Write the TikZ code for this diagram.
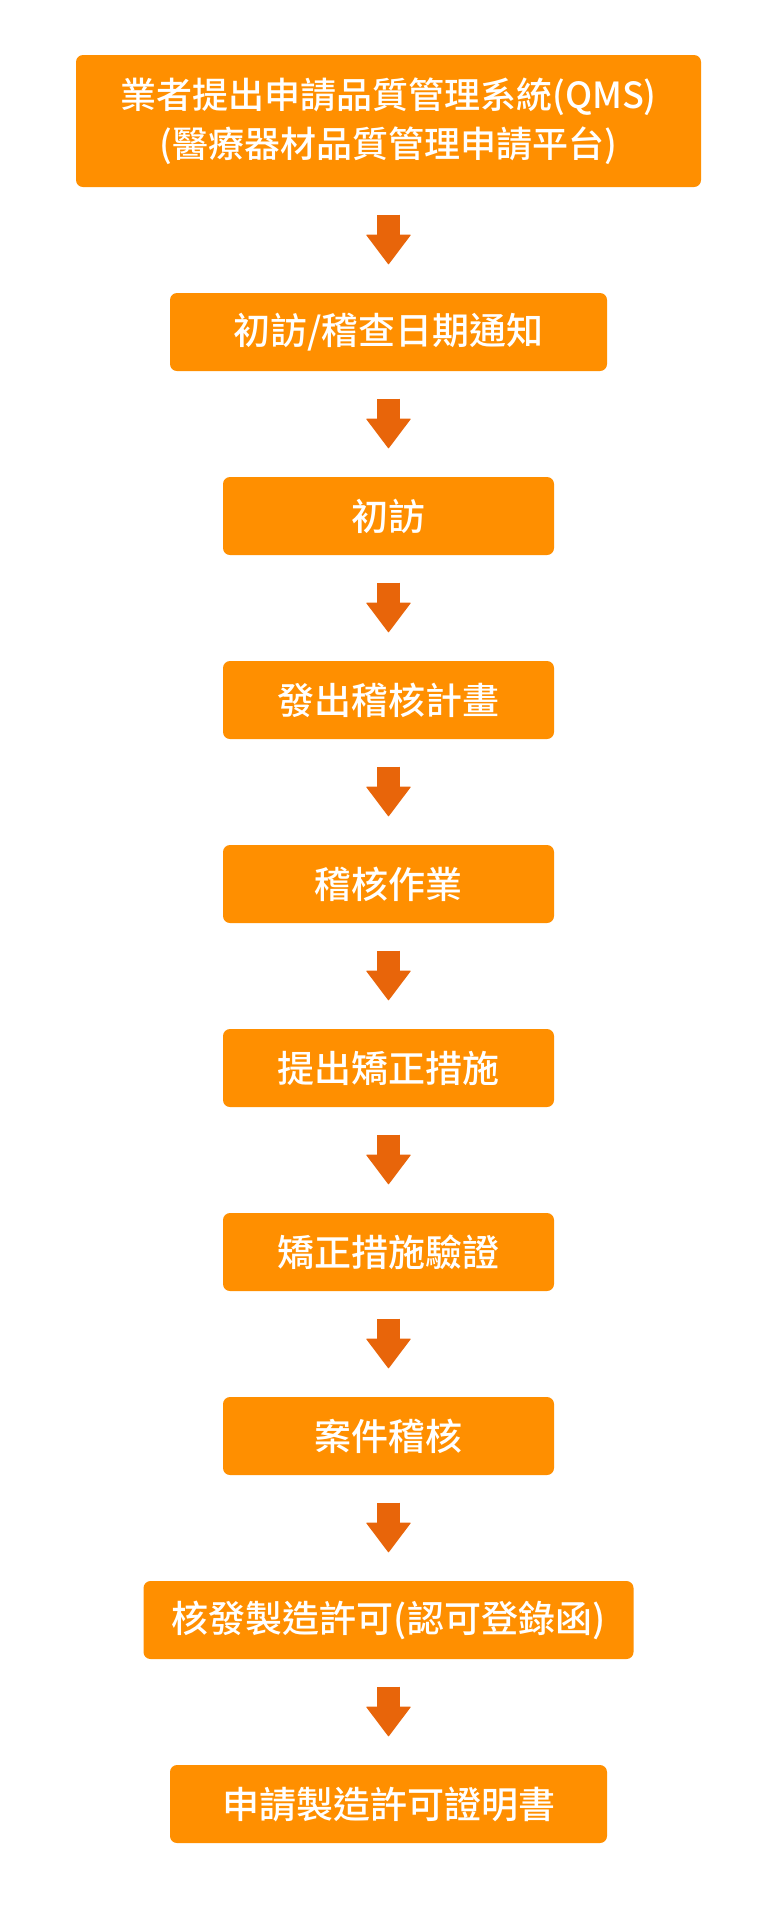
\documentclass[tikz,border=0pt]{standalone}
\usepackage{fontspec}
\newfontfamily\cjk{Noto Sans CJK TC Medium}
\usetikzlibrary{arrows.meta}
\definecolor{boxorange}{RGB}{255,143,0}
\definecolor{arroworange}{RGB}{232,101,10}
\tikzset{
  stage/.style={fill=boxorange, rounded corners=7pt, text=white, inner sep=0pt,
    minimum height=78pt, align=center, font=\cjk\fontsize{37}{49}\selectfont},
  flowarrow/.style={draw=arroworange, line width=22.6pt,
    -{Triangle[width=45pt,length=30pt,line width=1pt,round]}}
}
\begin{document}
\begin{tikzpicture}[x=1pt,y=1pt]
\useasboundingbox (0,0) rectangle (777,-1920);
\node[stage, minimum width=625pt, minimum height=132pt, font=\cjk\fontsize{36}{49}\selectfont] (apply) at (388.5,-121) {業者提出申請品質管理系統(QMS)\\(醫療器材品質管理申請平台)};
\node[stage, minimum width=437pt] (notice) at (388.5,-332) {初訪/稽查日期通知};
\node[stage, minimum width=331pt] (visit) at (388.5,-516) {初訪};
\node[stage, minimum width=331pt] (plan) at (388.5,-700) {發出稽核計畫};
\node[stage, minimum width=331pt] (audit) at (388.5,-884) {稽核作業};
\node[stage, minimum width=331pt] (capa) at (388.5,-1068) {提出矯正措施};
\node[stage, minimum width=331pt] (verify) at (388.5,-1252) {矯正措施驗證};
\node[stage, minimum width=331pt] (review) at (388.5,-1436) {案件稽核};
\node[stage, minimum width=490pt] (letter) at (388.5,-1620) {核發製造許可(認可登錄函)};
\node[stage, minimum width=437pt] (cert) at (388.5,-1804) {申請製造許可證明書};
\draw[flowarrow] ([yshift=-27.5pt]apply.south) -- ([yshift=28.5pt]notice.north);
\draw[flowarrow] ([yshift=-27.5pt]notice.south) -- ([yshift=28.5pt]visit.north);
\draw[flowarrow] ([yshift=-27.5pt]visit.south) -- ([yshift=28.5pt]plan.north);
\draw[flowarrow] ([yshift=-27.5pt]plan.south) -- ([yshift=28.5pt]audit.north);
\draw[flowarrow] ([yshift=-27.5pt]audit.south) -- ([yshift=28.5pt]capa.north);
\draw[flowarrow] ([yshift=-27.5pt]capa.south) -- ([yshift=28.5pt]verify.north);
\draw[flowarrow] ([yshift=-27.5pt]verify.south) -- ([yshift=28.5pt]review.north);
\draw[flowarrow] ([yshift=-27.5pt]review.south) -- ([yshift=28.5pt]letter.north);
\draw[flowarrow] ([yshift=-27.5pt]letter.south) -- ([yshift=28.5pt]cert.north);
\end{tikzpicture}
\end{document}
